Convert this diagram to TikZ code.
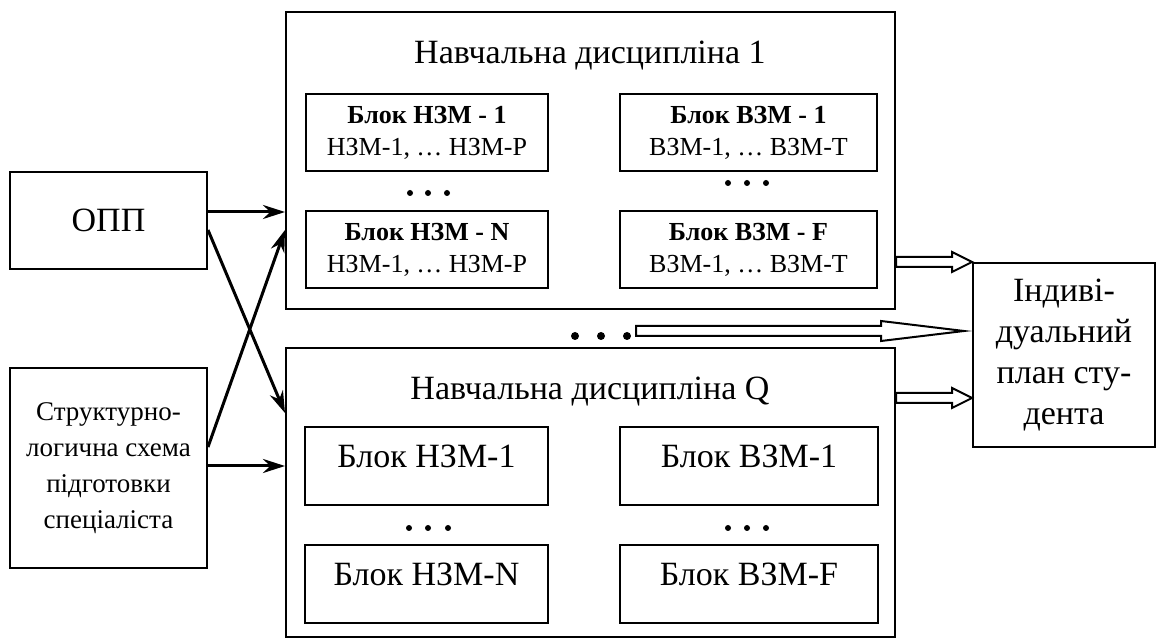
\documentclass[tikz,border=0pt]{standalone}
\usepackage{fontspec}
\setmainfont{Liberation Serif}
\usetikzlibrary{arrows.meta, calc, positioning}

% hollow block arrow: start, target node, gap before target, head length
\newcommand\blockarrow[4]{%
  \draw[line width=1pt, fill=white] let \p1=(#1), \p2=(#2.west) in
    (\x1,\y1+2.5pt) -- (\x2-#3-#4,\y1+2.5pt) -- (\x2-#3-#4,\y1+5pt) -- (\x2-#3,\y1)
    -- (\x2-#3-#4,\y1-5pt) -- (\x2-#3-#4,\y1-2.5pt) -- (\x1,\y1-2.5pt) -- cycle;}

\begin{document}
\begin{tikzpicture}[x=0.5pt,y=-0.5pt,
    box/.style={draw, line width=1pt, inner sep=0pt, align=center},
    big/.style={font=\fontsize{17}{20.5}\selectfont},
    small/.style={font=\fontsize{13}{16}\selectfont},
    unitbox/.style={box, small, minimum height=38.5pt},
    qblock/.style={box, big, text height=20pt, text depth=19pt},
    flow/.style={-{Stealth[length=11pt,width=7pt]}, line width=1.5pt}]
    \useasboundingbox (0,0) rectangle (1161,640);

    % sources
    \node[box, big, minimum width=98.5pt, minimum height=48.5pt] (opp) at (108.5,220.5) {ОПП};
    \node[box, font=\fontsize{13.5}{18}\selectfont, minimum width=98.5pt, minimum height=100pt]
      (skhema) at (108.5,468) {Структурно-\\логична схема\\підготовки\\спеціаліста};

    % disciplines
    \node[box, minimum width=304.5pt, minimum height=148.5pt] (disc1) at (590.5,160.5) {};
    \node[big, anchor=base] (title1) at (590,63.5) {Навчальна дисципліна 1};
    \node[unitbox, minimum width=121pt] (n1) at (427,133) {\textbf{Блок НЗМ - 1}\\НЗМ-1, … НЗМ-P};
    \node[unitbox, minimum width=121pt] (nN) at (427,250) {\textbf{Блок НЗМ - N}\\НЗМ-1, … НЗМ-P};
    \node[unitbox, minimum width=128.5pt] (v1) at (748.5,133) {\textbf{Блок ВЗМ - 1}\\ВЗМ-1, … ВЗМ-T};
    \node[unitbox, minimum width=128.5pt] (vF) at (748.5,250) {\textbf{Блок ВЗМ - F}\\ВЗМ-1, … ВЗМ-T};

    \node[box, minimum width=304.5pt, minimum height=144.5pt] (discQ) at (590.5,492.5) {};
    \node[big, anchor=base] (titleQ) at (590,399.5) {Навчальна дисципліна Q};
    \node[qblock, minimum width=121.5pt] (qn1) at (426.5,466.5) {Блок НЗМ-1};
    \node[qblock, minimum width=121.5pt] (qnN) at (426.5,584) {Блок НЗМ-N};
    \node[qblock, minimum width=129pt] (qv1) at (749,466.5) {Блок ВЗМ-1};
    \node[qblock, minimum width=129pt] (qvF) at (749,584) {Блок ВЗМ-F};

    % dots
    \foreach \x in {410,428,447} \fill (\x,193) circle[radius=1.5pt];
    \foreach \x in {728,747,766} \fill (\x,183) circle[radius=1.5pt];
    \foreach \x in {409,428,448} \fill (\x,528) circle[radius=1.5pt];
    \foreach \x in {728,747,766} \fill (\x,528) circle[radius=1.5pt];
    \foreach \x in {575,601,627} \fill (\x,336) circle[radius=2pt];

    % result
    \node[box, big, minimum width=91pt, minimum height=92pt] (plan) at (1064,355)
      {Індиві-\\дуальний\\план сту-\\дента};

    \draw[flow] ($(opp.east)+(0,-8.5)$) -- ($(disc1.west)+(0,51.5)$);
    \draw[flow] ($(opp.east)+(0,9.5)$) -- ($(discQ.west)+(0,-79.5)$);
    \draw[flow] ($(skhema.east)+(0,-21)$) -- ($(disc1.west)+(0,69.5)$);
    \draw[flow] ($(skhema.east)+(0,-2)$) -- ($(discQ.west)+(0,-26.5)$);

    \coordinate (dotsend) at (636,331);
    \blockarrow{$(disc1.east)+(0,101.5)$}{plan}{0pt}{10pt}
    \blockarrow{$(discQ.east)+(0,-94.5)$}{plan}{0pt}{10pt}
    \blockarrow{dotsend}{plan}{4pt}{41.5pt}
\end{tikzpicture}
\end{document}
